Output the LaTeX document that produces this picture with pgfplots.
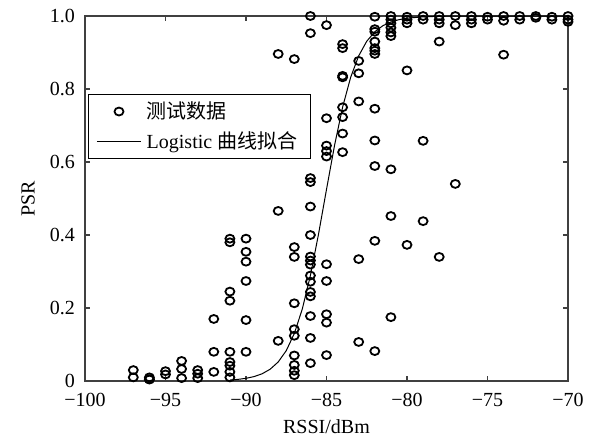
\documentclass[border=0pt]{standalone}
\usepackage{pgfplots}
\pgfplotsset{compat=1.18}
\usepackage{fontspec}
\setmainfont{Liberation Serif}
\newfontfamily\cjk{Noto Sans CJK SC}

% Measured packet success rate at each RSSI level
\pgfplotstableread{
x p
-97 0.030
-97 0.010
-96 0.010
-96 0.005
-96 0.004
-95 0.027
-95 0.018
-94 0.055
-94 0.033
-94 0.008
-93 0.030
-93 0.020
-93 0.008
-92 0.170
-92 0.080
-92 0.025
-91 0.390
-91 0.380
-91 0.245
-91 0.220
-91 0.080
-91 0.052
-91 0.042
-91 0.025
-91 0.010
-90 0.390
-90 0.354
-90 0.327
-90 0.274
-90 0.167
-90 0.080
-88 0.896
-88 0.466
-88 0.110
-87 0.882
-87 0.367
-87 0.340
-87 0.213
-87 0.142
-87 0.124
-87 0.070
-87 0.044
-87 0.028
-87 0.016
-86 1.000
-86 0.953
-86 0.556
-86 0.545
-86 0.478
-86 0.400
-86 0.341
-86 0.330
-86 0.319
-86 0.289
-86 0.272
-86 0.244
-86 0.232
-86 0.178
-86 0.118
-86 0.049
-85 0.975
-85 0.720
-85 0.645
-85 0.630
-85 0.615
-85 0.320
-85 0.274
-85 0.183
-85 0.160
-85 0.071
-84 0.923
-84 0.912
-84 0.836
-84 0.832
-84 0.750
-84 0.723
-84 0.678
-84 0.627
-83 0.877
-83 0.843
-83 0.766
-83 0.334
-83 0.107
-82 0.998
-82 0.964
-82 0.957
-82 0.930
-82 0.912
-82 0.905
-82 0.896
-82 0.746
-82 0.659
-82 0.589
-82 0.384
-82 0.082
-81 1.000
-81 0.990
-81 0.980
-81 0.968
-81 0.955
-81 0.945
-81 0.580
-81 0.452
-81 0.175
-80 0.998
-80 0.990
-80 0.980
-80 0.851
-80 0.373
-79 1.000
-79 0.990
-79 0.658
-79 0.438
-78 1.000
-78 0.990
-78 0.980
-78 0.930
-78 0.340
-77 1.000
-77 0.975
-77 0.540
-76 1.000
-76 0.990
-76 0.980
-75 0.998
-75 0.990
-74 1.000
-74 0.987
-74 0.894
-73 1.000
-73 0.990
-72 1.000
-72 0.995
-71 0.998
-71 0.990
-70 1.000
-70 0.990
-70 0.984
}\measured

% Fitted logistic curve, tabulated
\pgfplotstableread{
x p
-91.0 0.0027
-90.5 0.0045
-90.0 0.0074
-89.5 0.0121
-89.0 0.0198
-88.5 0.0323
-88.0 0.0522
-87.5 0.0832
-87.0 0.1301
-86.5 0.1978
-86.0 0.2891
-85.5 0.4013
-85.0 0.5250
-84.5 0.6457
-84.0 0.7503
-83.5 0.8320
-83.0 0.8909
-82.5 0.9309
-82.0 0.9569
-81.5 0.9734
-81.0 0.9837
-80.5 0.9900
-80.0 0.9939
-79.0 0.9978
-78.0 0.9992
-76.0 0.9999
-73.0 1.0000
-70.0 1.0000
}\fitted

\begin{document}
\begin{tikzpicture}
\begin{axis}[
  name=ax,
  scale only axis,
  width=241.5pt, height=182.5pt,
  xmin=-100, xmax=-70, ymin=0, ymax=1,
  clip=false,
  axis line style={black!75, line width=0.6pt},
  tick style={black!75, line width=0.6pt},
  tick align=inside,
  major tick length=2.5pt,
  xtick={-100,-95,-90,-85,-80,-75,-70},
  xticklabels={−100,−95,−90,−85,−80,−75,−70},
  ytick={0,0.2,0.4,0.6,0.8,1},
  yticklabels={0,0.2,0.4,0.6,0.8,1.0},
  tick label style={font=\fontsize{10}{12}\selectfont},
  xticklabel style={yshift=-2.8pt},
  yticklabel style={xshift=-1.5pt},
  xlabel={RSSI/dBm},
  ylabel={PSR},
  label style={font=\fontsize{10}{12}\selectfont},
  xlabel style={at={(axis description cs:0.5,-0.125)}, anchor=center},
  ylabel style={at={(axis description cs:-0.118,0.5)}, anchor=center},
  legend style={
    at={(axis description cs:0.0062,0.786)}, anchor=north west,
    draw=black, line width=0.5pt, fill=white,
    font=\fontsize{10}{12}\selectfont,
    inner xsep=4pt, inner ysep=1.5pt, row sep=1pt,
    nodes={inner xsep=2.6pt},
  },
  legend cell align=left,
]
\addplot[only marks, mark=o, mark size=2.25pt,
  mark options={line width=0.9pt, yscale=0.88},
  legend image code/.code={
    \draw[only marks, mark repeat=2, mark phase=2]
      plot coordinates {(0pt,0pt) (11pt,0pt) (22pt,0pt)};}]
  table[x=x, y=p] {\measured};
\addlegendentry{{\cjk 测试数据}}
\addplot[black, line width=0.5pt, no marks,
  legend image code/.code={\draw (0pt,0pt) -- (22pt,0pt);}]
  table[x=x, y=p] {\fitted};
\addlegendentry{Logistic {\cjk 曲线拟合}}
\end{axis}
\pgfresetboundingbox
\path[use as bounding box]
  ([shift={(-42.5pt,-27.5pt)}]ax.south west) rectangle
  ([shift={(11.5pt,8pt)}]ax.north east);
\end{tikzpicture}
\end{document}
